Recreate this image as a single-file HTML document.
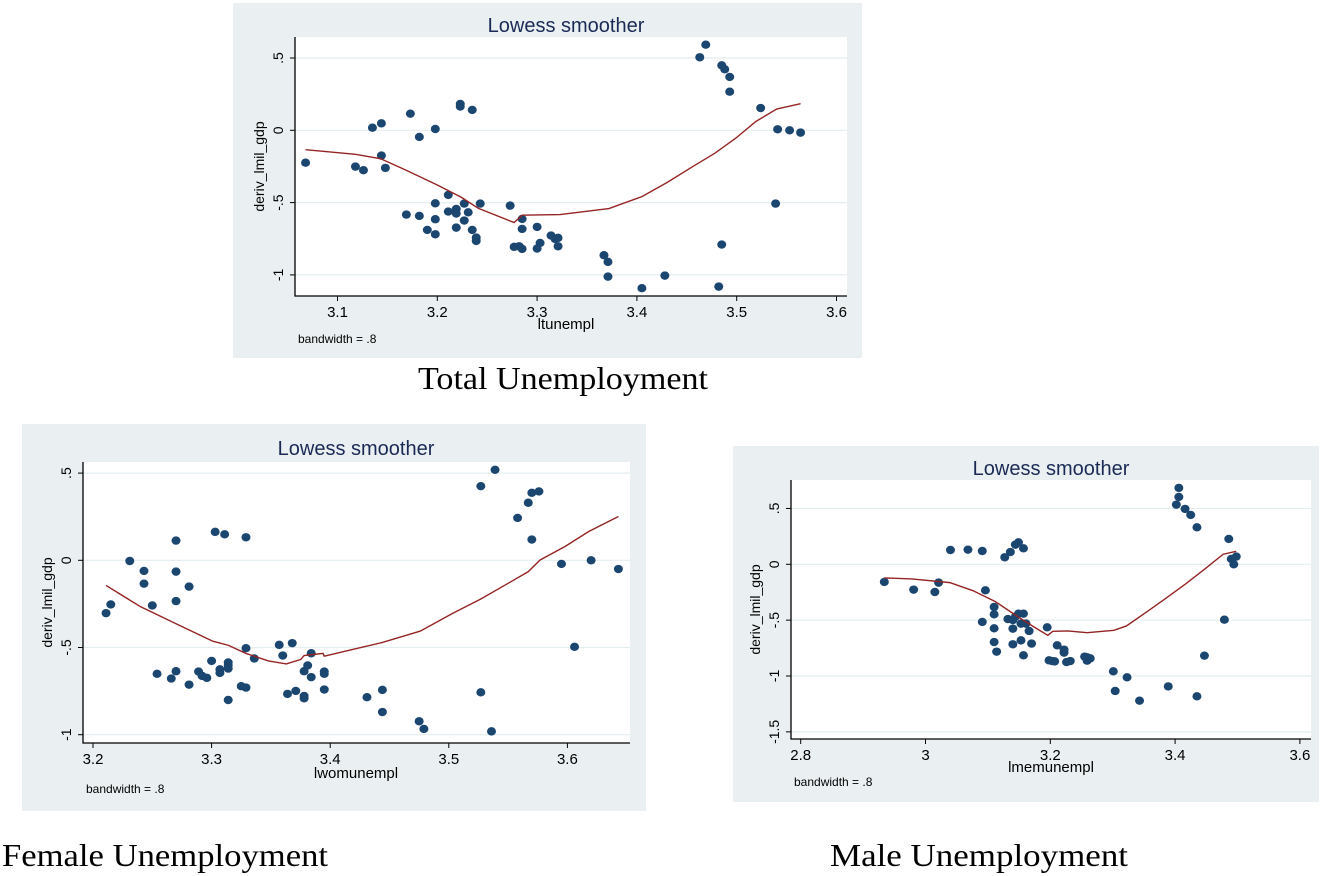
<!DOCTYPE html>
<html><head><meta charset="utf-8"><style>
html,body{margin:0;padding:0;background:#fff;}
svg{display:block;font-family:"Liberation Sans",Arial,sans-serif;}
</style></head><body>
<svg id="root" width="1328" height="876" viewBox="0 0 1328 876" xmlns="http://www.w3.org/2000/svg">
<text x="418" y="389" font-family="Liberation Serif,serif" font-size="32" textLength="290" lengthAdjust="spacingAndGlyphs" fill="#000">Total Unemployment</text>
<text x="2" y="866" font-family="Liberation Serif,serif" font-size="32" textLength="326" lengthAdjust="spacingAndGlyphs" fill="#000">Female Unemployment</text>
<text x="830" y="866" font-family="Liberation Serif,serif" font-size="32" textLength="298" lengthAdjust="spacingAndGlyphs" fill="#000">Male Unemployment</text>
</svg>
<script>
// Panel 1: Total unemployment
const p1X=[3.068,3.118,3.126,3.135,3.144,3.144,3.148,3.173,3.169,3.182,3.182,3.190,3.198,3.198,3.198,3.198,3.211,3.211,3.219,3.219,3.219,3.223,3.223,3.227,3.227,3.231,3.235,3.235,3.239,3.239,3.243,3.273,3.277,3.282,3.285,3.285,3.285,3.300,3.300,3.303,3.314,3.318,3.321,3.321,3.367,3.371,3.371,3.405,3.428,3.463,3.469,3.485,3.488,3.493,3.493,3.482,3.485,3.524,3.539,3.541,3.553,3.564];
const p1Y=[-0.224,-0.251,-0.276,0.018,0.048,-0.175,-0.260,0.115,-0.583,-0.046,-0.592,-0.689,0.009,-0.505,-0.615,-0.719,-0.447,-0.562,-0.544,-0.576,-0.673,0.182,0.164,-0.507,-0.624,-0.567,0.141,-0.689,-0.742,-0.765,-0.507,-0.521,-0.806,-0.802,-0.613,-0.682,-0.820,-0.668,-0.818,-0.779,-0.728,-0.751,-0.744,-0.802,-0.864,-0.910,-1.012,-1.092,-1.005,0.505,0.592,0.449,0.422,0.369,0.267,-1.081,-0.790,0.154,-0.507,0.007,0.000,-0.016];
const p1LX=[3.068,3.118,3.143,3.168,3.200,3.224,3.241,3.277,3.285,3.323,3.372,3.405,3.430,3.458,3.478,3.499,3.519,3.540,3.564];
const p1LY=[-0.134,-0.166,-0.196,-0.274,-0.378,-0.463,-0.539,-0.638,-0.587,-0.583,-0.541,-0.459,-0.362,-0.242,-0.159,-0.055,0.060,0.147,0.184];
const p1XTicks=[3.1,3.2,3.3,3.4,3.5,3.6];
const p1XLabels=["3.1","3.2","3.3","3.4","3.5","3.6"];
const p1YTicks=[0.5,0,-0.5,-1];
const p1YLabels=[".5","0","-.5","-1"];
// Panel 2: Female unemployment
const p2X=[3.211,3.215,3.231,3.243,3.243,3.250,3.254,3.266,3.270,3.270,3.270,3.270,3.281,3.281,3.289,3.292,3.296,3.300,3.303,3.307,3.307,3.311,3.314,3.314,3.314,3.314,3.325,3.329,3.329,3.329,3.336,3.357,3.360,3.364,3.368,3.371,3.378,3.378,3.378,3.381,3.384,3.384,3.395,3.395,3.395,3.431,3.444,3.444,3.475,3.479,3.527,3.527,3.536,3.539,3.558,3.567,3.570,3.570,3.576,3.595,3.606,3.620,3.643];
const p2Y=[-0.303,-0.253,-0.004,-0.061,-0.134,-0.259,-0.651,-0.678,0.113,-0.065,-0.234,-0.636,-0.151,-0.713,-0.638,-0.663,-0.674,-0.577,0.163,-0.625,-0.646,0.149,-0.586,-0.602,-0.621,-0.801,-0.722,0.132,-0.504,-0.730,-0.563,-0.485,-0.546,-0.766,-0.475,-0.749,-0.636,-0.778,-0.791,-0.603,-0.533,-0.670,-0.638,-0.651,-0.741,-0.785,-0.743,-0.870,-0.923,-0.967,0.425,-0.757,-0.981,0.519,0.243,0.330,0.387,0.119,0.395,-0.021,-0.496,0.000,-0.050];
const p2LX=[3.211,3.240,3.274,3.301,3.314,3.329,3.348,3.363,3.375,3.378,3.394,3.395,3.419,3.444,3.476,3.503,3.527,3.550,3.567,3.577,3.598,3.618,3.643];
const p2LY=[-0.144,-0.266,-0.377,-0.464,-0.487,-0.534,-0.577,-0.594,-0.569,-0.546,-0.534,-0.550,-0.511,-0.471,-0.406,-0.305,-0.222,-0.132,-0.065,0.002,0.079,0.165,0.251];
const p2XTicks=[3.2,3.3,3.4,3.5,3.6];
const p2XLabels=["3.2","3.3","3.4","3.5","3.6"];
const p2YTicks=[0.5,0,-0.5,-1];
const p2YLabels=[".5","0","-.5","-1"];
// Panel 3: Male unemployment
const p3X=[2.934,2.981,3.015,3.021,3.040,3.068,3.091,3.096,3.091,3.110,3.110,3.110,3.110,3.114,3.127,3.136,3.132,3.140,3.140,3.140,3.144,3.144,3.149,3.149,3.153,3.153,3.157,3.157,3.157,3.161,3.166,3.170,3.195,3.198,3.203,3.207,3.211,3.222,3.222,3.226,3.232,3.255,3.259,3.259,3.264,3.301,3.304,3.323,3.343,3.389,3.402,3.406,3.406,3.416,3.425,3.435,3.435,3.447,3.479,3.486,3.490,3.498,3.494];
const p3Y=[-0.158,-0.227,-0.248,-0.164,0.128,0.131,0.119,-0.233,-0.516,-0.382,-0.448,-0.573,-0.696,-0.782,0.063,0.110,-0.490,-0.499,-0.576,-0.716,-0.469,0.176,0.197,-0.442,-0.531,-0.681,-0.442,0.143,-0.815,-0.531,-0.597,-0.710,-0.564,-0.860,-0.866,-0.869,-0.725,-0.764,-0.791,-0.875,-0.866,-0.827,-0.863,-0.833,-0.842,-0.958,-1.134,-1.012,-1.221,-1.093,0.534,0.684,0.603,0.496,0.442,0.331,-1.182,-0.818,-0.496,0.227,0.048,0.069,0.000];
const p3LX=[2.934,2.978,3.039,3.076,3.112,3.148,3.173,3.196,3.204,3.228,3.259,3.302,3.322,3.355,3.386,3.416,3.447,3.477,3.498];
const p3LY=[-0.122,-0.131,-0.164,-0.236,-0.334,-0.469,-0.558,-0.636,-0.600,-0.597,-0.612,-0.591,-0.552,-0.424,-0.301,-0.179,-0.045,0.090,0.116];
const p3XTicks=[2.8,3.0,3.2,3.4,3.6];
const p3XLabels=["2.8","3","3.2","3.4","3.6"];
const p3YTicks=[0.5,0,-0.5,-1,-1.5];
const p3YLabels=[".5","0","-.5","-1","-1.5"];

const NS="http://www.w3.org/2000/svg";
const root=document.getElementById('root');
function mk(tag,attrs,parent){const e=document.createElementNS(NS,tag);for(const k in attrs)e.setAttribute(k,attrs[k]);(parent||root).appendChild(e);return e;}

function panel(id,cfg,xs,ys,lx,ly,xt,xl,yt,yl){
  const g=mk('g',{});
  
  
  const bg=mk('rect',{x:cfg.bx,y:cfg.by,width:cfg.bw,height:cfg.bh,fill:'#eaf0f2'},g);
  
  
  const pa=mk('rect',{x:cfg.l,y:cfg.t,width:cfg.r-cfg.l,height:cfg.b-cfg.t,fill:'#fff'},g);
  
  
  const X=v=>cfg.x0+(v-cfg.xv0)*cfg.xs;
  const Y=v=>cfg.y0-v*cfg.ys;
  yt.forEach((v,i)=>{
    const gl=mk('line',{x1:cfg.l,x2:cfg.r,y1:Y(v),y2:Y(v),stroke:'#e3eef0','stroke-width':1.2},g);
    
    
    const tk=mk('line',{x1:cfg.l-5,x2:cfg.l,y1:Y(v),y2:Y(v),stroke:'#000','stroke-width':1},g);
    
    
    const t=mk('text',{x:0,y:0,transform:`translate(${cfg.l-12},${Y(v)}) rotate(-90)`,'text-anchor':'middle','font-size':14,fill:'#000'},g);
    t.textContent=yl[i];
    
    
  });
  xt.forEach((v,i)=>{
    const tk=mk('line',{x1:X(v),x2:X(v),y1:cfg.b,y2:cfg.b+5,stroke:'#000','stroke-width':1},g);
    
    
    const t=mk('text',{x:X(v),y:cfg.b+21,'text-anchor':'middle','font-size':15,fill:'#000'},g);
    t.textContent=xl[i];
    
    
  });
  const ax=mk('path',{d:`M${cfg.l},${cfg.t} V${cfg.b} H${cfg.r}`,fill:'none',stroke:'#000','stroke-width':1.3},g);
  
  
  xs.forEach((v,i)=>{
    const c=mk('ellipse',{cx:X(v),cy:Y(ys[i]),rx:4.5,ry:4.2,fill:'#1b4670'},g);
    
    
  });
  const ln=mk('polyline',{points:lx.map((v,i)=>X(v)+','+Y(ly[i])).join(' '),fill:'none',stroke:'#952424','stroke-width':1.4},g);
  
  
  const ti=mk('text',{x:cfg.tx,y:cfg.ty,'text-anchor':'middle','font-size':20,fill:'#1a2a55'},g);
  ti.textContent='Lowess smoother';
  
  
  const xa=mk('text',{x:cfg.tx,y:cfg.xty,'text-anchor':'middle','font-size':15,fill:'#000'},g);
  xa.textContent=cfg.xname;
  
  
  const ya=mk('text',{x:0,y:0,transform:`translate(${cfg.l-31},${(cfg.t+cfg.b)/2}) rotate(-90)`,'text-anchor':'middle','font-size':14,fill:'#000'},g);
  ya.textContent='deriv_lmil_gdp';
  
  
  const bw=mk('text',{x:cfg.l+3,y:cfg.bwy,'font-size':12,fill:'#000'},g);
  bw.textContent='bandwidth = .8';
  
  
}
panel('total',{bx:233,by:3,bw:629,bh:355,l:295,r:847,t:37,b:296,x0:337.5,xv0:3.1,xs:998,y0:130.3,ys:144.6,tx:566,ty:32,xty:329,xname:'ltunempl',bwy:343},p1X,p1Y,p1LX,p1LY,p1XTicks,p1XLabels,p1YTicks,p1YLabels);
panel('female',{bx:22,by:424,bw:624,bh:387,l:83,r:630,t:462,b:743,x0:93,xv0:3.2,xs:1186,y0:560.3,ys:174.4,tx:356,ty:455,xty:778,xname:'lwomunempl',bwy:793},p2X,p2Y,p2LX,p2LY,p2XTicks,p2XLabels,p2YTicks,p2YLabels);
panel('male',{bx:733,by:446,bw:586,bh:356,l:791,r:1311,t:480,b:739,x0:800.7,xv0:2.8,xs:624,y0:564.3,ys:111.7,tx:1051,ty:475,xty:772,xname:'lmemunempl',bwy:786},p3X,p3Y,p3LX,p3LY,p3XTicks,p3XLabels,p3YTicks,p3YLabels);
</script>
</body></html>
